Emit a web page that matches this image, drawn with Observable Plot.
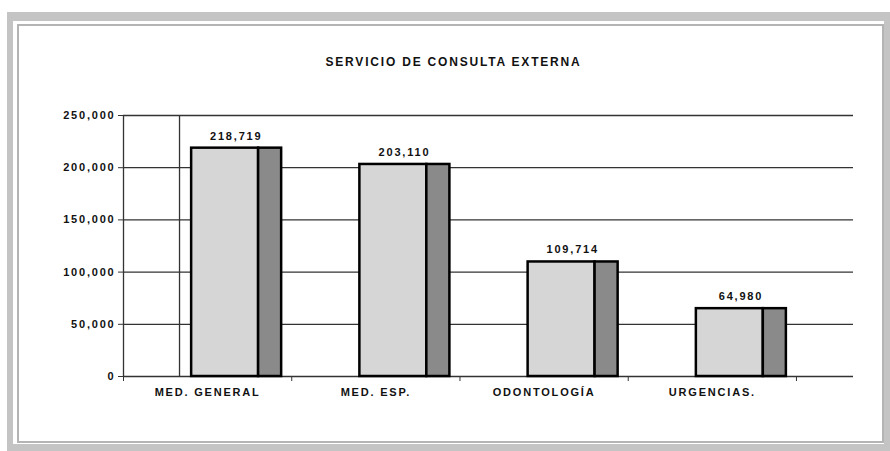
<!DOCTYPE html>
<html>
<head>
<meta charset="utf-8">
<script src="https://cdn.jsdelivr.net/npm/d3@7"></script>
<script src="https://cdn.jsdelivr.net/npm/@observablehq/plot@0.6"></script>
<style>
  body { margin: 0; background: #fff; }
  #wrap { position: relative; width: 890px; height: 451px; overflow: hidden; font-family: "Liberation Sans", Arial, sans-serif; }
  #outer { position: absolute; left: 7px; top: 12px; right: 0; bottom: 0; box-sizing: border-box;
           border: solid #c4c4c4; border-width: 9px 6px 7px 6px; }
  #inner { position: absolute; left: 17px; top: 24px; right: 6px; bottom: 8px; box-sizing: border-box;
           border: 2px solid #b4b4b4; }
  #chart { position: absolute; left: 0; top: 0; }
</style>
</head>
<body>
<div id="wrap">
  <div id="outer"></div>
  <div id="inner"></div>
  <div id="chart"></div>
</div>
<script>
// ---- data ----
const title = "SERVICIO DE CONSULTA EXTERNA";
const categories = ["MED. GENERAL", "MED. ESP.", "ODONTOLOGÍA", "URGENCIAS."];
const values = [218719, 203110, 109714, 64980];
const yTicks = [0, 50000, 100000, 150000, 200000, 250000];

// ---- pseudo-3D column geometry (in category units) ----
const FRONT_L = -0.095, DIVIDE = 0.303, SIDE_R = 0.44, WALL = -0.167, LABEL_X = 0.17;
const boundaries = d3.range(categories.length + 1).map(i => i - 0.5);

const data = categories.map((c, i) => ({ c, i, v: values[i] }));
const fmt = d3.format(",");

const chart = Plot.plot({
  width: 890,
  height: 451,
  marginLeft: 123,
  marginRight: 37,
  marginTop: 115,
  marginBottom: 75,
  style: { background: "transparent", fontFamily: "'Liberation Sans', Arial, sans-serif" },
  x: { type: "linear", domain: [-0.5, 3.839], axis: null },
  y: { domain: [0, 250000], axis: null },
  marks: [
    Plot.ruleY(yTicks, { stroke: "#333", strokeWidth: 1.3 }),
    Plot.ruleX([WALL], { y1: 0, y2: 250000, stroke: "#333", strokeWidth: 1.3 }),
    Plot.ruleX([-0.5], { y1: 0, y2: 250000, stroke: "#333", strokeWidth: 1.3 }),
    Plot.axisY(yTicks, {
      label: null, tickFormat: fmt, tickSize: 5, tickPadding: 3, stroke: "#333",
      fontSize: 11, fontWeight: "bold", fill: "#111"
    }),
    Plot.axisX(boundaries, { label: null, tickSize: 5, tickFormat: () => "", stroke: "#333" }),
    Plot.rectY(data, {
      x1: d => d.i + FRONT_L, x2: d => d.i + DIVIDE, y1: 0, y2: "v",
      fill: "#d6d6d6", stroke: "#000", strokeWidth: 2.5
    }),
    Plot.rectY(data, {
      x1: d => d.i + DIVIDE, x2: d => d.i + SIDE_R, y1: 0, y2: "v",
      fill: "#8a8a8a", stroke: "#000", strokeWidth: 2.5
    }),
    Plot.text(data, {
      x: d => d.i + LABEL_X, y: "v", text: d => fmt(d.v), dy: -12,
      fontSize: 11, fontWeight: "bold", fill: "#111"
    }),
    Plot.text(data, {
      x: "i", text: "c", frameAnchor: "bottom", dy: 19,
      fontSize: 11, fontWeight: "bold", fill: "#111"
    }),
    Plot.text([title], {
      frameAnchor: "top", dy: -58, dx: -35,
      fontSize: 12, fontWeight: "bold", fill: "#111"
    })
  ]
});

d3.select(chart).selectAll("text").style("letter-spacing", "1.8px");
document.getElementById("chart").appendChild(chart);
</script>
</body>
</html>
